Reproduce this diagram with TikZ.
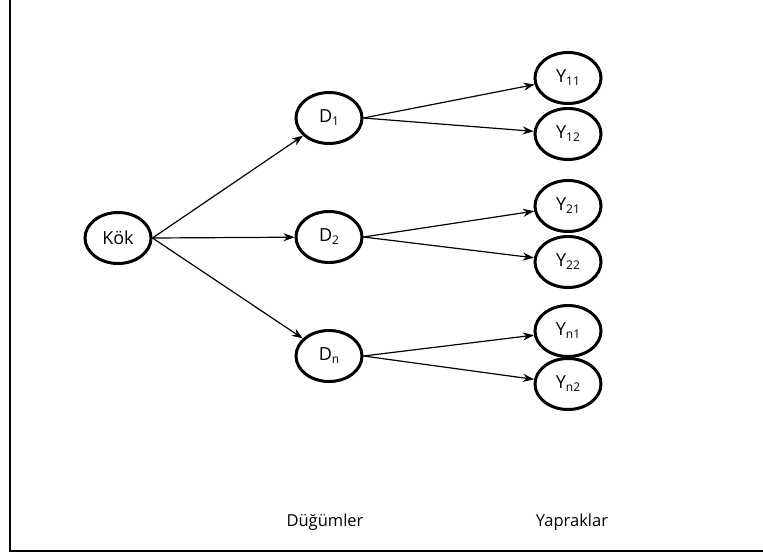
\documentclass[tikz,border=0pt]{standalone}
\usepackage{fontspec}
\setmainfont{Open Sans}
\usetikzlibrary{arrows.meta,shapes.geometric}
\newcommand{\sbs}[1]{\raisebox{-3pt}{\fontsize{12}{13}\selectfont #1}}
\begin{document}
\begin{tikzpicture}[x=1pt,y=-1pt,
  nd/.style={draw,line width=3pt,ellipse,minimum width=66pt,minimum height=51pt,inner sep=0pt,font=\fontsize{18}{20}\selectfont},
  arr/.style={line width=1.2pt,-{Stealth[length=11pt,width=8pt]}},
  lbl/.style={font=\fontsize{16.5}{19}\selectfont,anchor=base}]
\useasboundingbox (0,0) rectangle (763,557);
\draw[line width=1.6pt] (10,0) -- (10,551) -- (763,551);
\node[nd] (kok) at (118,238) {Kök};
\node[nd] (d1) at (329,118) {D\sbs{1}};
\node[nd] (d2) at (329,237) {D\sbs{2}};
\node[nd] (dn) at (329,356) {D\sbs{n}};
\node[nd] (y11) at (568,78) {Y\sbs{11}};
\node[nd] (y12) at (568,134) {Y\sbs{12}};
\node[nd] (y21) at (568,206) {Y\sbs{21}};
\node[nd] (y22) at (568,262) {Y\sbs{22}};
\node[nd] (yn1) at (568,331) {Y\sbs{n1}};
\node[nd] (yn2) at (568,384) {Y\sbs{n2}};
\draw[arr] (kok.east) -- (d1);
\draw[arr] (kok.east) -- (d2);
\draw[arr] (kok.east) -- (dn);
\draw[arr] (d1.east) -- (y11);
\draw[arr] (d1.east) -- (y12);
\draw[arr] (d2.east) -- (y21);
\draw[arr] (d2.east) -- (y22);
\draw[arr] (dn.east) -- (yn1);
\draw[arr] (dn.east) -- (yn2);
\node[lbl] (dug) at (325,526) {Düğümler};
\node[lbl] (yap) at (572,526) {Yapraklar};
\end{tikzpicture}
\end{document}
